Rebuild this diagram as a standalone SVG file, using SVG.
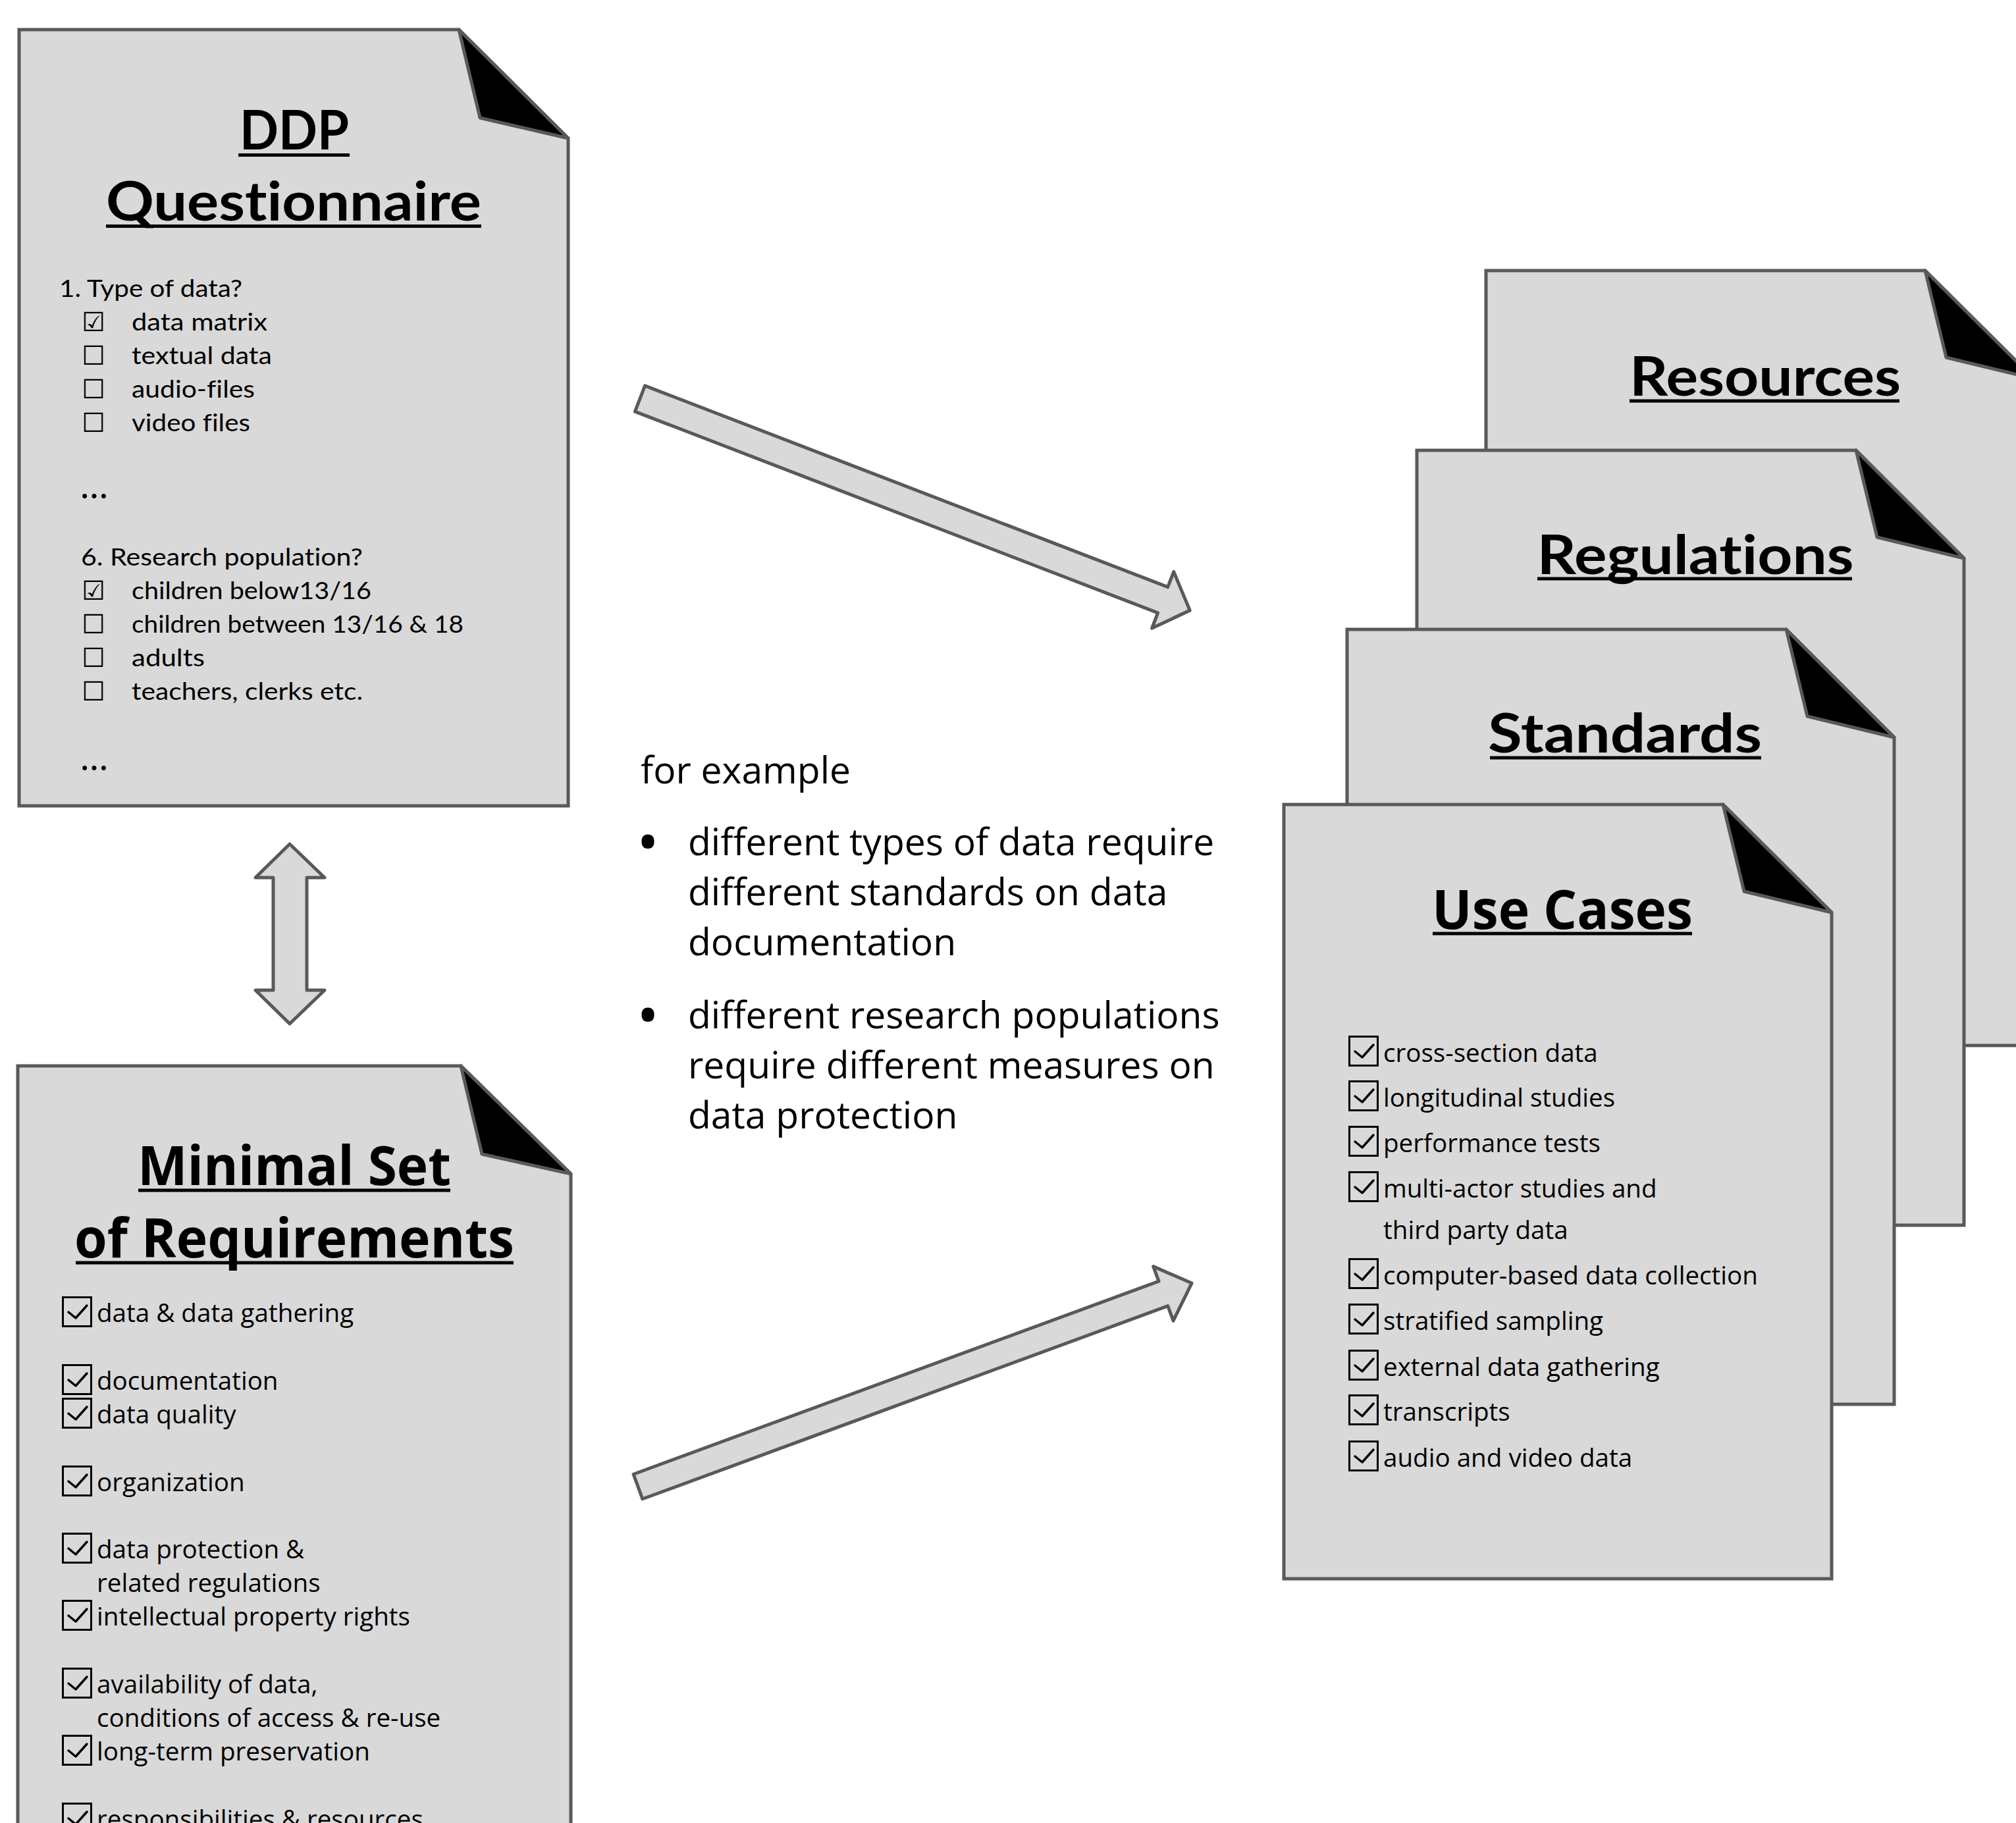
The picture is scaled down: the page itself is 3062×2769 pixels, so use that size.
<svg xmlns="http://www.w3.org/2000/svg" xmlns:xlink="http://www.w3.org/1999/xlink" width="3062" height="2769" viewBox="0 0 3062 2769">
<style>
text{font-variant-ligatures:none;font-feature-settings:"liga" 0,"clig" 0}
.page{fill:#d9d9d9;stroke:#595959;stroke-width:5;stroke-linejoin:miter}
.fold{fill:#000;stroke:#595959;stroke-width:5;stroke-linejoin:round}
.arrow{fill:#d9d9d9;stroke:#595959;stroke-width:5;stroke-linejoin:round}
.tA{font-family:Lato,"Liberation Sans",sans-serif;font-weight:700;font-size:82px;fill:#000}
.tB{font-family:"Open Sans","Liberation Sans",sans-serif;font-weight:700;font-size:82px;fill:#000}
.q{font-family:Lato,"Liberation Sans",sans-serif;font-size:37px;fill:#000}
.el{font-family:Lato,"Liberation Sans",sans-serif;font-size:56px;fill:#000}
.bx{font-family:"DejaVu Sans",sans-serif;font-size:40px;fill:#000}
.it{font-family:"Open Sans","Liberation Sans",sans-serif;font-size:38.6px;fill:#000}
.mid{font-family:"Open Sans","Liberation Sans",sans-serif;font-size:57px;fill:#000}
.bul{font-family:"Open Sans","Liberation Sans",sans-serif;font-size:92px;fill:#000}
.ul{stroke:#000;stroke-width:5}
.cb{fill:none;stroke:#000;stroke-width:3}
.ck{fill:none;stroke:#000;stroke-width:3.5;stroke-linecap:round;stroke-linejoin:round}
</style>
<defs>
<g id="check">
<rect class="cb" x="1.5" y="1.5" width="43" height="44"/>
<path class="ck" d="M10,24 L21,33 L38,14"/>
</g>
</defs>
<rect width="3062" height="2769" fill="#fff"/>

<g id="ddp-questionnaire">
<path class="page" d="M29,45 H697 L863,210 V1224 H29 Z"/>
<path class="fold" d="M697,45 L729,179 L863,210 Z"/>
<text class="tA" x="447" y="227" text-anchor="middle" textLength="166" lengthAdjust="spacingAndGlyphs">DDP</text>
<line class="ul" x1="362" y1="235.5" x2="531" y2="235.5"/>
<text class="tA" x="446" y="335" text-anchor="middle" textLength="570" lengthAdjust="spacingAndGlyphs">Questionnaire</text>
<line class="ul" x1="161" y1="343.5" x2="731" y2="343.5"/>
<text class="q" x="90" y="451" textLength="278" lengthAdjust="spacingAndGlyphs">1. Type of data?</text>
<text class="bx" x="124" y="503">☑</text>
<text class="q" x="200" y="502" textLength="206" lengthAdjust="spacingAndGlyphs">data matrix</text>
<text class="bx" x="124" y="554">☐</text>
<text class="q" x="200" y="553" textLength="213" lengthAdjust="spacingAndGlyphs">textual data</text>
<text class="bx" x="124" y="605">☐</text>
<text class="q" x="200" y="604" textLength="187" lengthAdjust="spacingAndGlyphs">audio-files</text>
<text class="bx" x="124" y="656">☐</text>
<text class="q" x="200" y="655" textLength="180" lengthAdjust="spacingAndGlyphs">video files</text>
<text class="el" x="122" y="757">…</text>
<text class="q" x="123" y="859" textLength="428" lengthAdjust="spacingAndGlyphs">6. Research population?</text>
<text class="bx" x="124" y="911">☑</text>
<text class="q" x="200" y="910" textLength="364" lengthAdjust="spacingAndGlyphs">children below13/16</text>
<text class="bx" x="124" y="962">☐</text>
<text class="q" x="200" y="961" textLength="504" lengthAdjust="spacingAndGlyphs">children between 13/16 &amp; 18</text>
<text class="bx" x="124" y="1013">☐</text>
<text class="q" x="200" y="1012" textLength="111" lengthAdjust="spacingAndGlyphs">adults</text>
<text class="bx" x="124" y="1064">☐</text>
<text class="q" x="200" y="1063" textLength="351" lengthAdjust="spacingAndGlyphs">teachers, clerks etc.</text>
<text class="el" x="122" y="1170">…</text>
</g>

<g id="minimal-set">
<path class="page" d="M27,1619 H700 L867,1783 V2810 H27 Z"/>
<path class="fold" d="M700,1619 L732,1753 L867,1783 Z"/>
<text class="tB" x="447" y="1800" text-anchor="middle" textLength="476" lengthAdjust="spacingAndGlyphs">Minimal Set</text>
<line class="ul" x1="210" y1="1808" x2="684" y2="1808"/>
<text class="tB" x="447" y="1910" text-anchor="middle" textLength="668" lengthAdjust="spacingAndGlyphs">of Requirements</text>
<line class="ul" x1="115" y1="1918" x2="780" y2="1918"/>
<use xlink:href="#check" x="94" y="1969"/>
<text class="it" x="147" y="2008">data &amp; data gathering</text>
<use xlink:href="#check" x="94" y="2072"/>
<text class="it" x="147" y="2111">documentation</text>
<use xlink:href="#check" x="94" y="2123"/>
<text class="it" x="147" y="2162">data quality</text>
<use xlink:href="#check" x="94" y="2226"/>
<text class="it" x="147" y="2265">organization</text>
<use xlink:href="#check" x="94" y="2328"/>
<text class="it" x="147" y="2367">data protection &amp;</text>
<text class="it" x="147" y="2418">related regulations</text>
<use xlink:href="#check" x="94" y="2430"/>
<text class="it" x="147" y="2469">intellectual property rights</text>
<use xlink:href="#check" x="94" y="2533"/>
<text class="it" x="147" y="2572">availability of data,</text>
<text class="it" x="147" y="2623">conditions of access &amp; re-use</text>
<use xlink:href="#check" x="94" y="2635"/>
<text class="it" x="147" y="2674">long-term preservation</text>
<use xlink:href="#check" x="94" y="2738"/>
<text class="it" x="147" y="2777">responsibilities &amp; resources</text>
</g>

<g id="resources">
<path class="page" d="M2257,411 H2924 L3089,575 V1588 H2257 Z"/>
<path class="fold" d="M2924,411 L2956,543 L3089,575 Z"/>
<text class="tA" x="2681" y="601" text-anchor="middle" textLength="412" lengthAdjust="spacingAndGlyphs">Resources</text>
<line class="ul" x1="2475" y1="609" x2="2885" y2="609"/>
</g>

<g id="regulations">
<path class="page" d="M2152,684 H2819 L2983,848 V1861 H2152 Z"/>
<path class="fold" d="M2819,684 L2851,816 L2983,848 Z"/>
<text class="tA" x="2575" y="872" text-anchor="middle" textLength="481" lengthAdjust="spacingAndGlyphs">Regulations</text>
<line class="ul" x1="2335" y1="879" x2="2813" y2="879"/>
</g>

<g id="standards">
<path class="page" d="M2046,956 H2713 L2877,1120 V2133 H2046 Z"/>
<path class="fold" d="M2713,956 L2745,1088 L2877,1120 Z"/>
<text class="tA" x="2468" y="1143" text-anchor="middle" textLength="416" lengthAdjust="spacingAndGlyphs">Standards</text>
<line class="ul" x1="2263" y1="1151" x2="2675" y2="1151"/>
</g>

<g id="use-cases">
<path class="page" d="M1950,1222 H2617 L2782,1386 V2398 H1950 Z"/>
<path class="fold" d="M2617,1222 L2649,1354 L2782,1386 Z"/>
<text class="tB" x="2373" y="1411" text-anchor="middle" textLength="396" lengthAdjust="spacingAndGlyphs">Use Cases</text>
<line class="ul" x1="2176" y1="1418" x2="2570" y2="1418"/>
<use xlink:href="#check" x="2048" y="1573"/>
<text class="it" x="2101" y="1613">cross-section data</text>
<use xlink:href="#check" x="2048" y="1641"/>
<text class="it" x="2101" y="1681">longitudinal studies</text>
<use xlink:href="#check" x="2048" y="1710"/>
<text class="it" x="2101" y="1750">performance tests</text>
<use xlink:href="#check" x="2048" y="1779"/>
<text class="it" x="2101" y="1819">multi-actor studies and</text>
<text class="it" x="2101" y="1882">third party data</text>
<use xlink:href="#check" x="2048" y="1911"/>
<text class="it" x="2101" y="1951">computer-based data collection</text>
<use xlink:href="#check" x="2048" y="1980"/>
<text class="it" x="2101" y="2020">stratified sampling</text>
<use xlink:href="#check" x="2048" y="2050"/>
<text class="it" x="2101" y="2090">external data gathering</text>
<use xlink:href="#check" x="2048" y="2118"/>
<text class="it" x="2101" y="2158">transcripts</text>
<use xlink:href="#check" x="2048" y="2188"/>
<text class="it" x="2101" y="2228">audio and video data</text>
</g>

<g id="example-text">
<text class="mid" x="973" y="1190">for example</text>
<text class="bul" x="984" y="1312" text-anchor="middle">•</text>
<text class="mid" x="1045" y="1299">different types of data require</text>
<text class="mid" x="1045" y="1375">different standards on data</text>
<text class="mid" x="1045" y="1451">documentation</text>
<text class="bul" x="984" y="1575" text-anchor="middle">•</text>
<text class="mid" x="1045" y="1562">different research populations</text>
<text class="mid" x="1045" y="1638">require different measures on</text>
<text class="mid" x="1045" y="1714">data protection</text>
</g>

<g id="connectors">
<polygon class="arrow" transform="translate(972,605.5) rotate(21.06)" points="0,-21 851,-21 851,-46 895,0 851,46 851,21 0,21"/>
<polygon class="arrow" transform="translate(969,2258) rotate(-20.17)" points="0,-20 850,-20 850,-44 896,0 850,44 850,20 0,20"/>
<polygon class="arrow" points="440,1282 493,1333 466,1333 466,1504 493,1504 440,1555 388,1504 415,1504 415,1333 388,1333"/>
</g>
</svg>
